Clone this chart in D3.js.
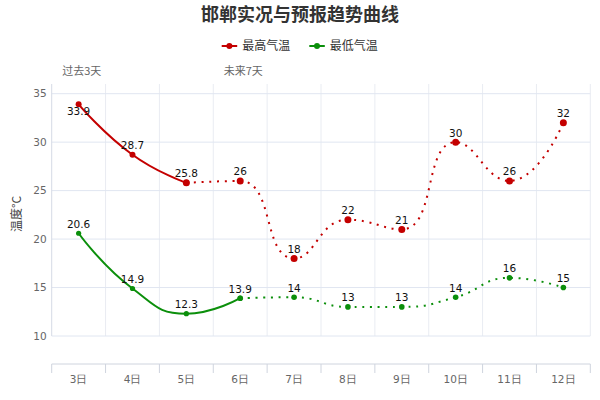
<!DOCTYPE html>
<html><head><meta charset="utf-8">
<script src="https://cdn.jsdelivr.net/npm/d3@7/dist/d3.min.js"></script>
<style>html,body{margin:0;padding:0;background:#fff;}svg{display:block;}</style>
</head><body>
<svg id="chart" width="600" height="400"></svg>
<script>
const title = "邯郸实况与预报趋势曲线";
const days = ["3日","4日","5日","6日","7日","8日","9日","10日","11日","12日"];
const maxObserved = [33.9, 28.7, 25.8, null, null, null, null, null, null, null];
const maxForecast = [null, null, 25.8, 26, 18, 22, 21, 30, 26, 32];
const minObserved = [20.6, 14.9, 12.3, 13.9, null, null, null, null, null, null];
const minForecast = [null, null, null, 13.9, 14, 13, 13, 14, 16, 15];
const yTicks = [10, 15, 20, 25, 30, 35];
const periodLabels = [{text: "过去3天", day: "3日"}, {text: "未来7天", day: "6日"}];
const legendNames = ["最高气温", "最低气温"];
const yTitle = "温度°C";

const RED = "#c40000", GREEN = "#0b8f0b";
const svg = d3.select("#chart");
const L = 51.7, R = 590.3, T = 84, B = 336, AX = 364;
const x = d3.scaleBand().domain(days).range([L, R]);
const y = d3.scaleLinear().domain([10, 36]).range([B, T]);
const cx = d => x(d) + x.bandwidth() / 2;
const NUMFONT = "DejaVu Sans, sans-serif";

// grid
const bounds = days.map(d => x(d)).concat([R]);
svg.append("g").selectAll("line").data(bounds.slice(1)).join("line")
  .attr("x1", d => d).attr("x2", d => d).attr("y1", T).attr("y2", B)
  .attr("stroke", "#e9ecf2").attr("stroke-width", 1);
svg.append("g").selectAll("line").data(yTicks).join("line")
  .attr("x1", L).attr("x2", R).attr("y1", d => y(d)).attr("y2", d => y(d))
  .attr("stroke", "#e0e6f1").attr("stroke-width", 1);
svg.append("line").attr("x1", L).attr("x2", L).attr("y1", T).attr("y2", B)
  .attr("stroke", "#d6dbe5");

// y labels
svg.append("g").selectAll("text").data(yTicks).join("text")
  .attr("x", L - 5).attr("y", d => y(d)).attr("dy", "0.36em")
  .attr("text-anchor", "end").attr("font-family", NUMFONT).attr("font-size", 10.5)
  .attr("fill", "#666").text(d => d);

// x axis
svg.append("line").attr("x1", L).attr("x2", R).attr("y1", AX).attr("y2", AX).attr("stroke", "#cfd4de");
svg.append("g").selectAll("line").data(bounds).join("line")
  .attr("x1", d => d).attr("x2", d => d).attr("y1", AX).attr("y2", AX + 9).attr("stroke", "#cfd4de");
svg.append("g").selectAll("text").data(days).join("text")
  .attr("x", d => cx(d)).attr("y", 383).attr("text-anchor", "middle")
  .attr("font-family", NUMFONT).attr("font-size", 10.5).attr("fill", "#666").text(d => d);

// y title
svg.append("text").attr("transform", "translate(21,214) rotate(-90)")
  .attr("text-anchor", "middle").attr("font-family", "Noto Sans CJK SC, sans-serif")
  .attr("font-size", 12).attr("fill", "#444").text(yTitle);

// title
svg.append("text").attr("x", 300).attr("y", 21).attr("text-anchor", "middle")
  .attr("font-family", "Noto Sans CJK SC, sans-serif").attr("font-weight", "bold")
  .attr("font-size", 18).attr("fill", "#333").text(title);

// period labels
svg.append("g").selectAll("text").data(periodLabels).join("text")
  .attr("x", d => x(d.day) + 10.5).attr("y", 74.5)
  .attr("font-family", "Noto Sans CJK SC, sans-serif").attr("font-size", 11)
  .attr("fill", "#666").text(d => d.text);

// legend
const legend = [{name: legendNames[0], color: RED, x0: 221.7}, {name: legendNames[1], color: GREEN, x0: 309.3}];
const lg = svg.append("g").selectAll("g").data(legend).join("g");
lg.append("line").attr("x1", d => d.x0).attr("x2", d => d.x0 + 15.5).attr("y1", 46).attr("y2", 46)
  .attr("stroke", d => d.color).attr("stroke-width", 2);
lg.append("circle").attr("cx", d => d.x0 + 7.7).attr("cy", 46).attr("r", 3).attr("fill", d => d.color);
lg.append("text").attr("x", d => d.x0 + 20.5).attr("y", 50.3)
  .attr("font-family", "Noto Sans CJK SC, sans-serif").attr("font-size", 12).attr("fill", "#333").text(d => d.name);

// ECharts-like smooth line
function smoothPath(pts, smooth) {
  const p = d3.path();
  let prevX, prevY, cpx0, cpy0, nextCpx0, nextCpy0;
  const n = pts.length;
  for (let i = 0; i < n; i++) {
    const [px, py] = pts[i];
    if (i === 0) { p.moveTo(px, py); cpx0 = px; cpy0 = py; }
    else {
      let cpx1, cpy1;
      if (i === n - 1) { cpx1 = px; cpy1 = py; }
      else {
        const [nx, ny] = pts[i + 1];
        let vx = nx - prevX, vy = ny - prevY;
        const dx0 = px - prevX, dx1 = nx - px, dy0 = py - prevY, dy1 = ny - py;
        const lenPrev = Math.sqrt(dx0 * dx0 + dy0 * dy0);
        const lenNext = Math.sqrt(dx1 * dx1 + dy1 * dy1);
        const ratio = lenNext / (lenNext + lenPrev);
        nextCpx0 = px + vx * smooth * ratio;
        nextCpy0 = py + vy * smooth * ratio;
        nextCpx0 = Math.min(nextCpx0, Math.max(nx, px));
        nextCpy0 = Math.min(nextCpy0, Math.max(ny, py));
        nextCpx0 = Math.max(nextCpx0, Math.min(nx, px));
        nextCpy0 = Math.max(nextCpy0, Math.min(ny, py));
        vx = nextCpx0 - px; vy = nextCpy0 - py;
        cpx1 = px - vx * lenPrev / lenNext;
        cpy1 = py - vy * lenPrev / lenNext;
        cpx1 = Math.min(cpx1, Math.max(prevX, px));
        cpy1 = Math.min(cpy1, Math.max(prevY, py));
        cpx1 = Math.max(cpx1, Math.min(prevX, px));
        cpy1 = Math.max(cpy1, Math.min(prevY, py));
        vx = px - cpx1; vy = py - cpy1;
        nextCpx0 = px + vx * lenNext / lenPrev;
        nextCpy0 = py + vy * lenNext / lenPrev;
      }
      p.bezierCurveTo(cpx0, cpy0, cpx1, cpy1, px, py);
      cpx0 = nextCpx0; cpy0 = nextCpy0;
    }
    prevX = px; prevY = py;
  }
  return p.toString();
}

function toPts(vals) {
  return days.map((d, i) => vals[i] == null ? null : {day: d, v: vals[i]}).filter(d => d);
}

const series = [
  {vals: maxObserved, color: RED, dash: null, r: 3},
  {vals: maxForecast, color: RED, dash: "2 5.7", r: 3.5},
  {vals: minObserved, color: GREEN, dash: null, r: 2.6},
  {vals: minForecast, color: GREEN, dash: "2 5.7", r: 2.8}
];
series.forEach(s => {
  const pts = toPts(s.vals);
  svg.append("path").attr("d", smoothPath(pts.map(d => [cx(d.day), y(d.v)]), 0.5))
    .attr("fill", "none").attr("stroke", s.color).attr("stroke-width", 2)
    .attr("stroke-dasharray", s.dash);
  svg.append("g").selectAll("circle").data(pts).join("circle")
    .attr("cx", d => cx(d.day)).attr("cy", d => y(d.v)).attr("r", s.r).attr("fill", s.color);
});

// value labels
const labelData = [];
days.forEach((d, i) => {
  const mv = maxObserved[i] != null ? maxObserved[i] : maxForecast[i];
  labelData.push({day: d, v: mv, below: i === 0});
  const nv = minObserved[i] != null ? minObserved[i] : minForecast[i];
  labelData.push({day: d, v: nv, below: false});
});
svg.append("g").selectAll("text").data(labelData).join("text")
  .attr("x", d => cx(d.day)).attr("y", d => y(d.v) + (d.below ? 11 : -5.5))
  .attr("text-anchor", "middle").attr("font-family", NUMFONT).attr("font-size", 10.5)
  .attr("fill", "#111").text(d => d.v);
</script>
</body></html>
